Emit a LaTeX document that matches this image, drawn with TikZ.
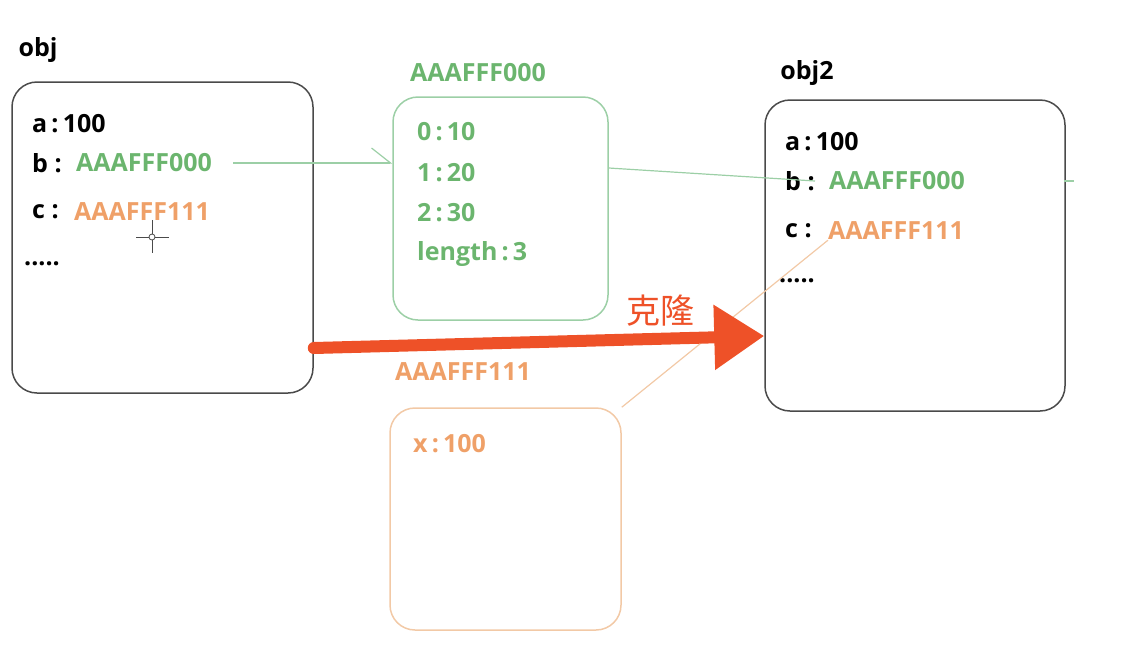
\documentclass[tikz,border=0pt]{standalone}
\usepackage{fontspec}
\setmainfont{Open Sans}
\newfontfamily\cjk{Noto Sans CJK SC}
\usetikzlibrary{positioning, arrows.meta}

\definecolor{boxgray}{HTML}{4A4A4A}
\definecolor{memgreen}{HTML}{6BB56E}
\definecolor{linegreen}{HTML}{9CCFA6}
\definecolor{memorange}{HTML}{EFA068}
\definecolor{lineorange}{HTML}{F2C9A6}
\definecolor{clonered}{HTML}{EE5128}

\begin{document}
\begin{tikzpicture}[x=1pt, y=-1pt,
  every node/.style={inner sep=0pt, font=\fontsize{25}{29}\selectfont\bfseries},
  objbox/.style={draw=boxgray, line width=1.5pt, rounded corners=25pt},
  field/.style={anchor=west},
  greenval/.style={anchor=west, text=memgreen},
  orangeval/.style={anchor=west, text=memorange}]
  \useasboundingbox (0,0) rectangle (1126,654);

  % obj
  \node (objname) at (38,50) {obj};
  \node[objbox, minimum width=301pt, minimum height=311pt] (obj) at (162.5,237.5) {};
  \node[field] (a1) at (32,124) {a\,:\,100};
  \node[field] (b1) at (32,163) {b :};
  \node[greenval] (b1val) at (76,163) {AAAFFF000};
  \node[field] (c1) at (32,212) {c :};
  \node[orangeval] (c1val) at (74,212) {AAAFFF111};
  \node[field] (dots1) at (24,264) {.....};

  % cursor
  \draw[boxgray, line width=0.8pt] (152,237) circle (3);
  \draw[boxgray, line width=0.8pt] (136,237) -- (149,237) (155,237) -- (169,237)
    (152,220) -- (152,234) (152,240) -- (152,253);

  % array at AAAFFF000
  \node[text=memgreen] (arrname) at (478,73) {AAAFFF000};
  \node[objbox, draw=linegreen, minimum width=215pt, minimum height=223pt] (arr) at (500.5,208.5) {};
  \node[greenval] (i0) at (417,132) {0\,:\,10};
  \node[greenval] (i1) at (417,173) {1\,:\,20};
  \node[greenval] (i2) at (417,213) {2\,:\,30};
  \node[greenval] (len) at (417,254) {length\,:\,3};

  % object at AAAFFF111
  \node[text=memorange] (subname) at (463,372) {AAAFFF111};
  \node[objbox, draw=lineorange, minimum width=231pt, minimum height=222pt] (sub) at (505.5,519) {};
  \node[orangeval] (x) at (413,444) {x\,:\,100};

  % obj2
  \node (obj2name) at (807,73) {obj2};
  \node[objbox, minimum width=300pt, minimum height=311pt] (obj2) at (915,255.5) {};
  \node[field] (a2) at (785,142) {a\,:\,100};
  \node[field] (b2) at (785,181) {b :};
  \node[greenval] (b2val) at (829,181) {AAAFFF000};
  \node[field] (c2) at (785,231) {c :};
  \node[orangeval] (c2val) at (828,231) {AAAFFF111};
  \node[field] (dots2) at (779,281) {.....};

  % references
  \draw[linegreen, line width=1.2pt, -{Straight Barb[harpoon, length=19pt, width=30pt, line width=1.2pt]}]
    ([xshift=21pt]b1val.east) -- (arr.west |- b1val);
  \draw[linegreen, line width=1.2pt] (arr.east |- 0,168) -- ([xshift=-14pt]b2val.west);
  \draw[linegreen, line width=1.2pt] ([xshift=-2pt]obj2.east |- b2val) -- +(10,0);
  \draw[lineorange, line width=1.2pt] (sub.north east) -- (c2val.south west);

  % clone
  \draw[clonered, line width=12pt, line cap=round, -{Triangle[length=50pt, width=62pt]}]
    (obj.east |- 0,348) -- (obj2.west |- 0,336);
  \node[font=\cjk\fontsize{34}{40}\selectfont, text=clonered] (clone) at (660,311) {克隆};
\end{tikzpicture}
\end{document}
